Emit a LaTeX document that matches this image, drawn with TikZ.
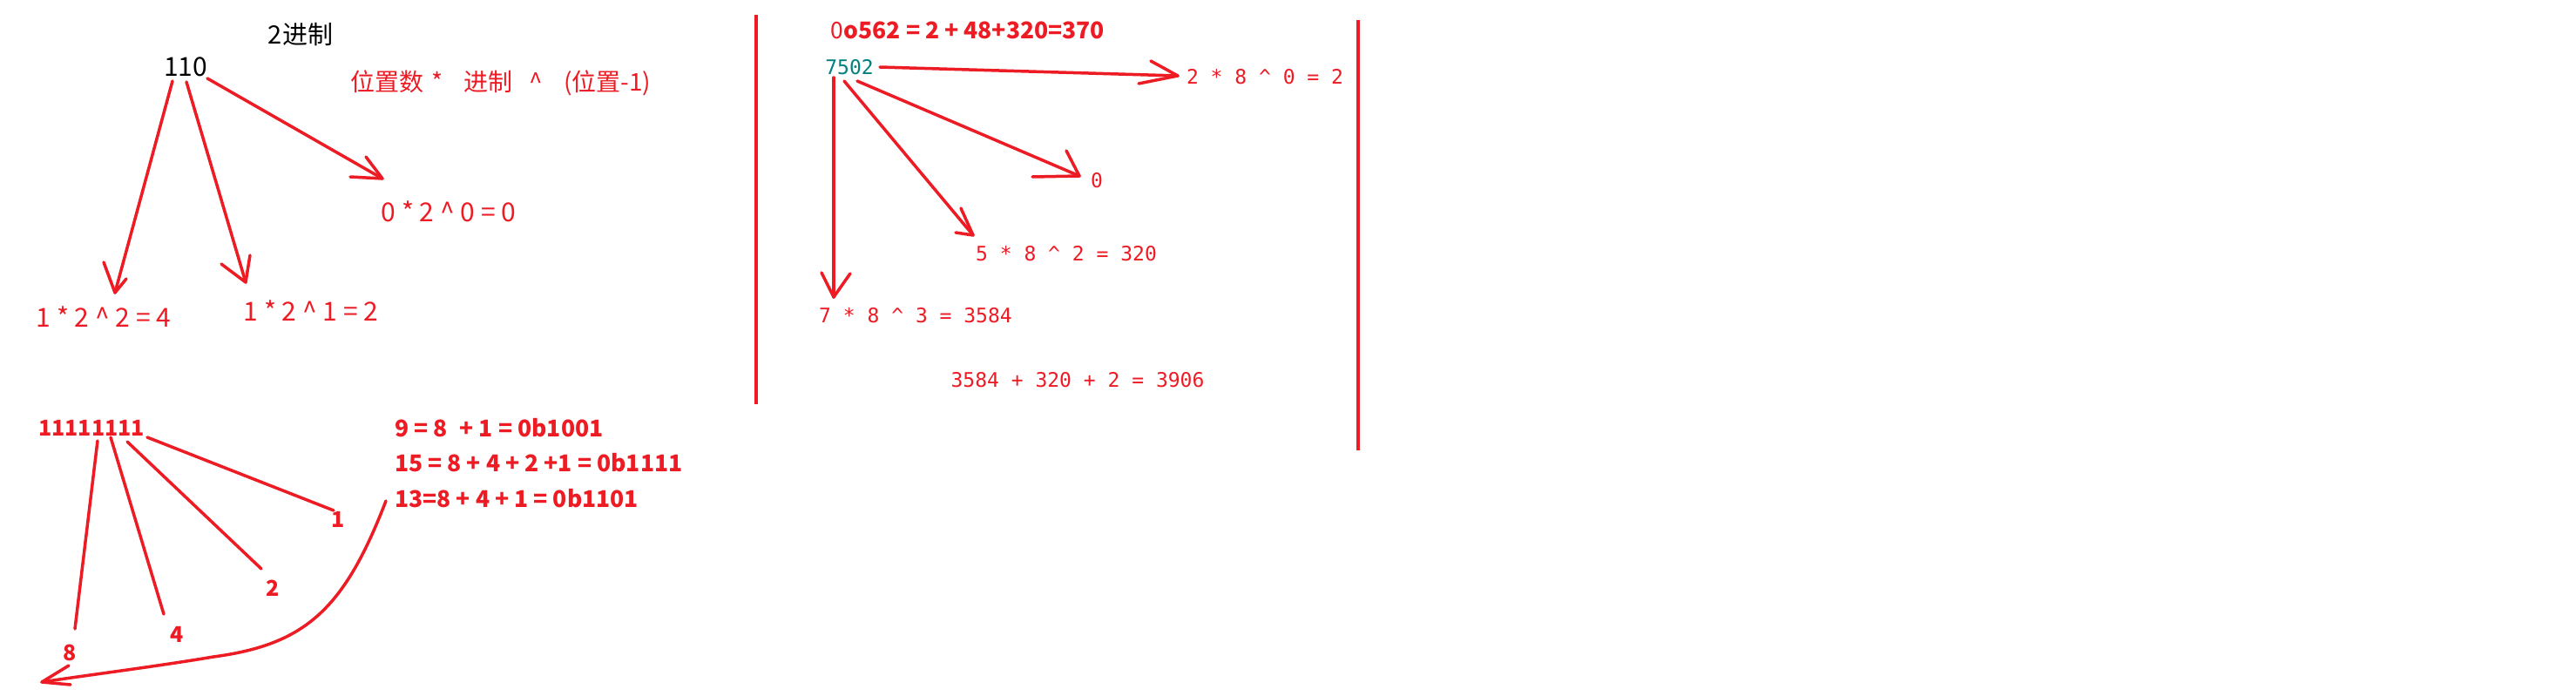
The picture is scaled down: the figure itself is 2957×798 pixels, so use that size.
\documentclass[tikz,border=0pt]{standalone}
\usepackage{fontspec}
\setmainfont{Noto Sans CJK SC}
\newfontfamily\monof{DejaVu Sans Mono}
\definecolor{pred}{RGB}{237,28,36}
\definecolor{pteal}{RGB}{0,128,128}
\tikzset{
  ink/.style={draw=pred, line width=3.5pt, line cap=round, line join=round},
  lbl/.style={inner sep=0pt, text=pred, font=\fontsize{30}{34}\selectfont},
  blbl/.style={inner sep=0pt, text=pred, font=\fontsize{26.5}{30}\selectfont\bfseries},
  dlbl/.style={inner sep=0pt, text=pred, font=\fontsize{25}{30}\selectfont\bfseries},
  mlbl/.style={inner sep=0pt, text=pred, font=\fontsize{23}{27}\selectfont\monof},
}
\begin{document}
\begin{tikzpicture}[x=1pt,y=-1pt]
\fill[white] (0,0) rectangle (2957,798);
\useasboundingbox (0,0) rectangle (2957,798);

% ---------- top left: binary 110 ----------
\node[lbl, text=black, font=\fontsize{29}{32}\selectfont] (title) at (345,40) {2进制};
\node[lbl, text=black] (n110) at (213,77) {110};
\node[lbl, font=\fontsize{28}{32}\selectfont] (rule) at (575,95)
  {位置数\hspace{9pt}*\hspace{24pt}进制\hspace{19pt}\textasciicircum\hspace{24pt}(位置-1)};
\node[lbl] (e0) at (515,243) {0 * 2 \textasciicircum{} 0 = 0};
\node[lbl] (e2) at (119,364) {1 * 2 \textasciicircum{} 2 = 4};
\node[lbl] (e1) at (357,357) {1 * 2 \textasciicircum{} 1 = 2};

\coordinate (a1s) at (198,93);  \coordinate (a1t) at (132,336);
\coordinate (a2s) at (214,94);  \coordinate (a2t) at (282,324);
\coordinate (a3s) at (238,90);  \coordinate (a3t) at (439,205);
\draw[ink] (a1s) -- (a1t);
\draw[ink] (a1t) ++(-13,-35) -- (a1t) -- ++(13,-16);
\draw[ink] (a2s) -- (a2t);
\draw[ink] (a2t) ++(-28,-21) -- (a2t) -- ++(5,-31);
\draw[ink] (a3s) -- (a3t);
\draw[ink] (a3t) ++(-19,-25) -- (a3t) -- ++(-37,-2);

% ---------- bottom left: 11111111 ----------
\node[dlbl] (ones) at (105,491) {11111111};
\node[dlbl] (d1) at (388,596) {1};
\node[dlbl] (d2) at (313,675) {2};
\node[dlbl] (d4) at (203,728) {4};
\node[dlbl] (d8) at (80,749) {8};
\node[blbl, anchor=west] (s9) at (453,491) {9 = 8\hspace{14pt}+ 1 = 0b1001};
\node[blbl, anchor=west] (s15) at (453,531) {15 = 8 + 4 + 2 +1 = 0b1111};
\node[blbl, anchor=west] (s13) at (453,572) {13=8 + 4 + 1 = 0b1101};

\coordinate (b8s) at (112,506); \coordinate (b8t) at (86,722);
\coordinate (b4s) at (127,502); \coordinate (b4t) at (188,705);
\coordinate (b2s) at (146,507); \coordinate (b2t) at (300,653);
\coordinate (b1s) at (169,502); \coordinate (b1t) at (383,586);
\draw[ink] (b8s) -- (b8t);
\draw[ink] (b4s) -- (b4t);
\draw[ink] (b2s) -- (b2t);
\draw[ink] (b1s) -- (b1t);
\coordinate (cs) at (443,575); \coordinate (ct) at (48,783);
\draw[ink] (cs) .. controls (395,700) and (350,740) .. (245,754)
           .. controls (180,765) and (100,775) .. (ct);
\draw[ink] (ct) ++(31,-19) -- (ct) -- ++(33,3);

% ---------- separators ----------
\coordinate (v1a) at (868,17);   \coordinate (v1b) at (868,464);
\coordinate (v2a) at (1559,23);  \coordinate (v2b) at (1559,517);
\draw[ink, line cap=butt] (v1a) -- (v1b);
\draw[ink, line cap=butt] (v2a) -- (v2b);

% ---------- right: octal 7502 ----------
\node[blbl] (oct) at (1111,35) {{\mdseries 0}o562 = 2 + 48+320=370};
\node[mlbl, text=pteal] (n7502) at (975,77) {7502};
\node[mlbl] (r0) at (1452,88) {2 * 8 \textasciicircum{} 0 = 2};
\node[mlbl] (r1) at (1259,207) {0};
\node[mlbl] (r2) at (1224,291) {5 * 8 \textasciicircum{} 2 = 320};
\node[mlbl] (r3) at (1051,362) {7 * 8 \textasciicircum{} 3 = 3584};
\node[mlbl] (tot) at (1237,436) {3584 + 320 + 2 = 3906};

\coordinate (c1s) at (1010,77);  \coordinate (c1t) at (1352,87);
\coordinate (c2s) at (984,93);   \coordinate (c2t) at (1239,202);
\coordinate (c3s) at (969,93);   \coordinate (c3t) at (1117,270);
\coordinate (c4s) at (957,89);   \coordinate (c4t) at (957,341);
\draw[ink] (c1s) -- (c1t);
\draw[ink] (c1t) ++(-31,-17) -- (c1t) -- ++(-45,9);
\draw[ink] (c2s) -- (c2t);
\draw[ink] (c2t) ++(-15,-29) -- (c2t) -- ++(-54,1);
\draw[ink] (c3s) -- (c3t);
\draw[ink] (c3t) ++(-14,-31) -- (c3t) -- ++(-20,-3);
\draw[ink] (c4s) -- (c4t);
\draw[ink] (c4t) ++(-14,-28) -- (c4t) -- ++(19,-27);
\end{tikzpicture}
\end{document}
